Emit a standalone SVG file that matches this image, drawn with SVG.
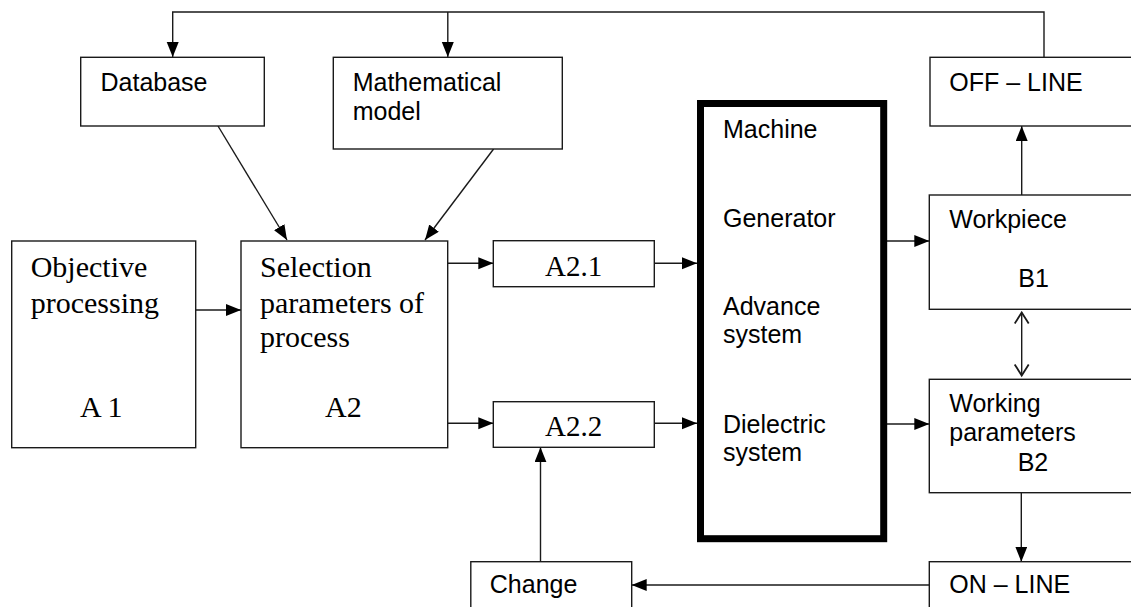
<svg xmlns="http://www.w3.org/2000/svg" width="1131" height="607" viewBox="0 0 1131 607">
<style>
.box{fill:#fff;stroke:#1a1a1a;stroke-width:1.4}
.thick{fill:#fff;stroke:#000;stroke-width:7}
.sans{font-family:"Liberation Sans",Arial,sans-serif;font-size:25px;fill:#000}
.serif{font-family:"Liberation Serif","Times New Roman",serif;font-size:30px;fill:#000}
.serif29{font-family:"Liberation Serif","Times New Roman",serif;font-size:29px;fill:#000}
.ln{fill:none;stroke:#1a1a1a;stroke-width:1.4}
</style>
<defs>
<marker id="arr" markerUnits="userSpaceOnUse" markerWidth="16" markerHeight="13" refX="15" refY="6" orient="auto">
<path d="M0,0 L15,6 L0,12 z" fill="#000"/>
</marker>
<marker id="open" markerUnits="userSpaceOnUse" markerWidth="14" markerHeight="18" refX="12" refY="8" orient="auto-start-reverse">
<path d="M1,1 L12,8 L1,15" fill="none" stroke="#1a1a1a" stroke-width="1.8"/>
</marker>
</defs>
<rect width="1131" height="607" fill="#fff"/>

<g id="connectors">
<path class="ln" d="M1044,57 V12 H172.7 V57" marker-end="url(#arr)"/>
<path class="ln" d="M447.8,12 V57" marker-end="url(#arr)"/>
<path class="ln" d="M218,126 L287,240" marker-end="url(#arr)"/>
<path class="ln" d="M493.6,149 L425,240" marker-end="url(#arr)"/>
<path class="ln" d="M195.7,310 H241" marker-end="url(#arr)"/>
<path class="ln" d="M448,263.3 H493.3" marker-end="url(#arr)"/>
<path class="ln" d="M448,423.3 H493.3" marker-end="url(#arr)"/>
<path class="ln" d="M654.5,263.3 H697" marker-end="url(#arr)"/>
<path class="ln" d="M654.5,423.3 H697" marker-end="url(#arr)"/>
<path class="ln" d="M887,241 H929.3" marker-end="url(#arr)"/>
<path class="ln" d="M887,424 H929.3" marker-end="url(#arr)"/>
<path class="ln" d="M1021.7,195 V126" marker-end="url(#arr)"/>
<path class="ln" d="M1021.7,312.5 V375.5" marker-start="url(#open)" marker-end="url(#open)"/>
<path class="ln" d="M1021.3,492.7 V561.7" marker-end="url(#arr)"/>
<path class="ln" d="M929.3,585 H631.7" marker-end="url(#arr)"/>
<path class="ln" d="M540.5,561.7 V447.3" marker-end="url(#arr)"/>
</g>

<g id="database">
<rect class="box" x="80.7" y="57.3" width="183.6" height="68.7"/>
<text class="sans" x="100.5" y="90.7">Database</text>
</g>

<g id="math-model">
<rect class="box" x="333.3" y="57.3" width="229" height="91.7"/>
<text class="sans" x="352.7" y="90.7">Mathematical</text>
<text class="sans" x="352.7" y="120">model</text>
</g>

<g id="objective">
<rect class="box" x="11.7" y="241" width="184" height="206.7"/>
<text class="serif" x="30.7" y="276.7">Objective</text>
<text class="serif" x="30.7" y="312.7">processing</text>
<text class="serif" x="80" y="416.7">A 1</text>
</g>

<g id="selection">
<rect class="box" x="241" y="241" width="206.7" height="206.7"/>
<text class="serif" x="260" y="276.7">Selection</text>
<text class="serif" x="260" y="312.7">parameters of</text>
<text class="serif" x="260" y="347.3">process</text>
<text class="serif" x="325" y="416.7">A2</text>
</g>

<g id="a21">
<rect class="box" x="493.3" y="240.7" width="161" height="46"/>
<text class="serif29" x="545" y="275.7">A2.1</text>
</g>

<g id="a22">
<rect class="box" x="493.3" y="401.7" width="161" height="45.6"/>
<text class="serif29" x="545" y="435.7">A2.2</text>
</g>

<g id="machine">
<rect class="thick" x="700.5" y="103.5" width="183.2" height="435.2"/>
<text class="sans" x="723" y="138">Machine</text>
<text class="sans" x="723" y="226.7">Generator</text>
<text class="sans" x="723" y="315">Advance</text>
<text class="sans" x="723" y="343.3">system</text>
<text class="sans" x="723" y="432.7">Dielectric</text>
<text class="sans" x="723" y="461">system</text>
</g>

<g id="off-line">
<rect class="box" x="930" y="57.3" width="215" height="68.7"/>
<text class="sans" x="949.3" y="91">OFF – LINE</text>
</g>

<g id="workpiece">
<rect class="box" x="929.3" y="195" width="215" height="114.3"/>
<text class="sans" x="949.3" y="228.3">Workpiece</text>
<text class="sans" x="1018.3" y="286.7">B1</text>
</g>

<g id="working-parameters">
<rect class="box" x="929.3" y="379.3" width="215" height="113.4"/>
<text class="sans" x="949.3" y="411.7">Working</text>
<text class="sans" x="949.3" y="441">parameters</text>
<text class="sans" x="1017.7" y="470.7">B2</text>
</g>

<g id="on-line">
<rect class="box" x="929.3" y="561.7" width="215" height="60"/>
<text class="sans" x="949.3" y="593.3">ON – LINE</text>
</g>

<g id="change">
<rect class="box" x="470.8" y="561.7" width="160.9" height="60"/>
<text class="sans" x="489.8" y="593">Change</text>
</g>
</svg>
